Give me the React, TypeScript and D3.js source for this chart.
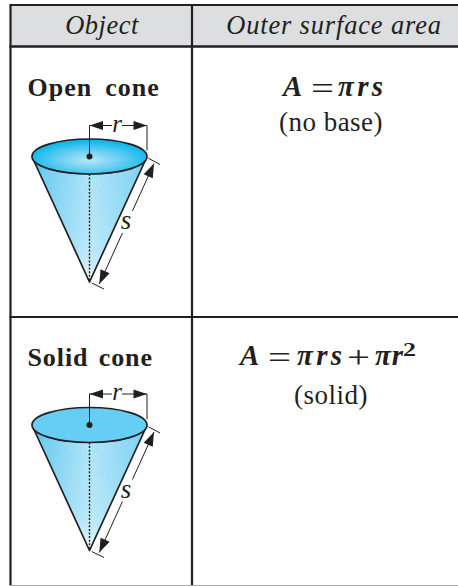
import React from "react";
import * as d3 from "d3";

const headers = ["Object", "Outer surface area"];
const rowNames = ["Open cone", "Solid cone"];
const notes = ["(no base)", "(solid)"];
const formulaOpen = ["A", "=", "πrs"];
const formulaSolid = ["A", "=", "πrs", "+", "πr", "2"];
const coneKinds = ["open", "solid"];
const INK = "#231f20";
const SERIF = "'Liberation Serif', serif";

const W = 458, H = 586;
const tableLeft = 10.5, colX = 192, topY = 5, headY = 46.5, rowY = 317, bottomY = 585.5;

// Horizontal layout of the formula pieces: [start x, width]
const openSlots: [number, number][] = [[283, 22], [311, 23], [338, 45]];
const solidSlots: [number, number][] = [[240, 23], [268, 23], [297, 45], [347, 23], [375, 28], [403, 13]];

function Cone({ cy, kind, id }: { cy: number; kind: string; id: string }) {
  const x = d3.scaleLinear().domain([-1, 1]).range([32, 147]);
  const y = d3.scaleLinear().domain([0, 1]).range([cy, cy + 125.5]);
  const cx = x(0), rx = x(1) - cx, ry = 17.5;
  const line = d3.line<[number, number]>().x(d => d[0]).y(d => d[1]);
  const tl: [number, number] = [x(-0.97), cy + 4];
  const tr: [number, number] = [x(0.97), cy + 4];
  const apex: [number, number] = [cx, y(1)];
  const body = `M${tl[0]},${tl[1]} A${rx},${ry} 0 0 0 ${tr[0]},${tr[1]} L${apex[0]},${apex[1]} Z`;
  const fan = d3.range(-1, 1.001, 0.04);
  const p0: [number, number] = [154, cy + 7];
  const p1: [number, number] = [99.3, cy + 127.5];
  const dx = p1[0] - p0[0], dy = p1[1] - p0[1];
  const len = Math.hypot(dx, dy), ux = dx / len, uy = dy / len, nx = -uy, ny = ux;
  const at = (t: number): [number, number] => [p0[0] + dx * t, p0[1] + dy * t];
  const arrow = (px: number, py: number, dir: number) => {
    const l = 14, w = 5;
    const bx = px + ux * dir * l, by = py + uy * dir * l;
    return `M${px},${py} L${bx + nx * w},${by + ny * w} L${bx - nx * w},${by - ny * w} Z`;
  };
  const rTop = cy - 31;
  return (
    <g>
      <defs>
        <linearGradient id={`${id}-b`} x1="0" x2="1" y1="0" y2="0">
          <stop offset="0" stopColor="#58c4ee" />
          <stop offset="0.5" stopColor="#abe3f8" />
          <stop offset="1" stopColor="#74cff2" />
        </linearGradient>
        <radialGradient id={`${id}-r`} cx="0.5" cy="0.6" r="0.55">
          <stop offset="0" stopColor="#b8e6f7" />
          <stop offset="0.45" stopColor="#6fd0f2" />
          <stop offset="1" stopColor="#0db7ec" />
        </radialGradient>
      </defs>
      <path d={body} fill={`url(#${id}-b)`} />
      {fan.map(t => (
        <path key={t} d={line([[x(t * 0.95), cy + 14], apex]) ?? ""} stroke="#ffffff" strokeOpacity={0.28} strokeWidth={0.6} fill="none" />
      ))}
      <path d={body} fill="none" stroke={INK} strokeWidth={1.7} strokeLinejoin="round" />
      <ellipse cx={cx} cy={cy} rx={rx} ry={ry} fill={kind === "open" ? `url(#${id}-r)` : "#66cdf5"} stroke={INK} strokeWidth={1.7} />
      <path d={line([[cx, cy + ry], apex]) ?? ""} stroke={INK} strokeWidth={1.4} strokeDasharray="2 1.6" fill="none" />
      <circle cx={cx} cy={cy} r={3} fill={INK} />
      {/* r dimension */}
      <path d={line([[cx, cy], [cx, rTop]]) ?? ""} stroke={INK} strokeWidth={1} fill="none" />
      <path d={line([[x(1), cy - 6], [x(1), rTop]]) ?? ""} stroke={INK} strokeWidth={1} fill="none" />
      <path d={line([[cx, rTop], [cx + 22.5, rTop]]) ?? ""} stroke={INK} strokeWidth={1} fill="none" />
      <path d={line([[cx + 32.5, rTop], [x(1), rTop]]) ?? ""} stroke={INK} strokeWidth={1} fill="none" />
      <path d={`M${cx},${rTop} l13.5,-4.5 v9 Z M${x(1)},${rTop} l-13.5,-4.5 v9 Z`} fill={INK} />
      <text x={cx + 27.5} y={rTop + 6} fontFamily={SERIF} fontStyle="italic" fontSize={25} textAnchor="middle" fill={INK}>r</text>
      {/* s dimension */}
      <path d={line([p0, at(0.394)]) ?? ""} stroke={INK} strokeWidth={1} fill="none" />
      <path d={line([at(0.577), p1]) ?? ""} stroke={INK} strokeWidth={1} fill="none" />
      <path d={line([[p0[0] - 5.7, p0[1] - 5.3], [p0[0] + 6, p0[1] + 1]]) ?? ""} stroke={INK} strokeWidth={1} fill="none" />
      <path d={line([[p1[0] - 7.6, p1[1] - 1], [p1[0] + 4.7, p1[1] + 5]]) ?? ""} stroke={INK} strokeWidth={1} fill="none" />
      <path d={arrow(p0[0], p0[1], 1) + arrow(p1[0], p1[1], -1)} fill={INK} />
      <text x={126} y={cy + 72.5} fontFamily={SERIF} fontStyle="italic" fontSize={27} textAnchor="middle" fill={INK}>s</text>
    </g>
  );
}

function Formula({ parts, slots, y }: { parts: string[]; slots: [number, number][]; y: number }) {
  return (
    <g fill={INK} fontFamily={SERIF}>
      {parts.map((p, i) => {
        const [sx, sw] = slots[i];
        if (p === "=" || p === "+") {
          return <text key={i} x={sx} y={y + 3} fontSize={32} textLength={sw} lengthAdjust="spacingAndGlyphs">{p}</text>;
        }
        if (p === "2") {
          return <text key={i} x={sx} y={y - 9} fontSize={18} fontWeight={700} textLength={sw} lengthAdjust="spacingAndGlyphs">{p}</text>;
        }
        return <text key={i} x={sx} y={y} fontSize={29} fontWeight={700} fontStyle="italic" textLength={sw} lengthAdjust="spacing">{p}</text>;
      })}
    </g>
  );
}

export default function App() {
  const headerCx = [102, 334];
  const rowTop = [headY, rowY];
  return (
    <svg width={W} height={H} viewBox={`0 0 ${W} ${H}`} style={{ position: "fixed", left: 0, top: 0, background: "#fff" }}>
      <rect x={tableLeft} y={topY} width={W - tableLeft} height={headY - topY} fill="#dcdee0" />
      {headers.map((h, i) => (
        <text key={h} x={headerCx[i]} y={33.5} textAnchor="middle" fontFamily={SERIF} fontStyle="italic" fontSize={26.5} letterSpacing={i === 1 ? 0.83 : 0.5} fill={INK}>{h}</text>
      ))}
      <g stroke={INK} fill="none">
        <line x1={tableLeft - 1} x2={W} y1={topY} y2={topY} strokeWidth={2} />
        <line x1={tableLeft - 1} x2={W} y1={headY} y2={headY} strokeWidth={2.4} />
        <line x1={tableLeft - 1} x2={W} y1={rowY} y2={rowY} strokeWidth={2.2} />
        <line x1={tableLeft} x2={tableLeft} y1={topY} y2={bottomY} strokeWidth={2.2} />
        <line x1={colX} x2={colX} y1={topY} y2={bottomY} strokeWidth={2.2} />
      </g>
      <line x1={tableLeft} x2={W} y1={bottomY} y2={bottomY} stroke="#a8a8a8" strokeWidth={1.2} />
      {rowNames.map((n, i) => (
        <text key={n} x={27.5} y={rowTop[i] + 49} fontFamily={SERIF} fontWeight={700} fontSize={26} letterSpacing={i === 0 ? 1 : 0.9} wordSpacing={i === 0 ? 5.5 : 3} fill={INK}>{n}</text>
      ))}
      {coneKinds.map((k, i) => (
        <Cone key={k} kind={k} id={k} cy={i === 0 ? 156.5 : 425} />
      ))}
      <Formula parts={formulaOpen} slots={openSlots} y={96} />
      <Formula parts={formulaSolid} slots={solidSlots} y={365} />
      {notes.map((n, i) => (
        <text key={n} x={331} y={i === 0 ? 131 : 404} textAnchor="middle" fontFamily={SERIF} fontSize={27} letterSpacing={0.5} fill={INK}>{n}</text>
      ))}
    </svg>
  );
}
